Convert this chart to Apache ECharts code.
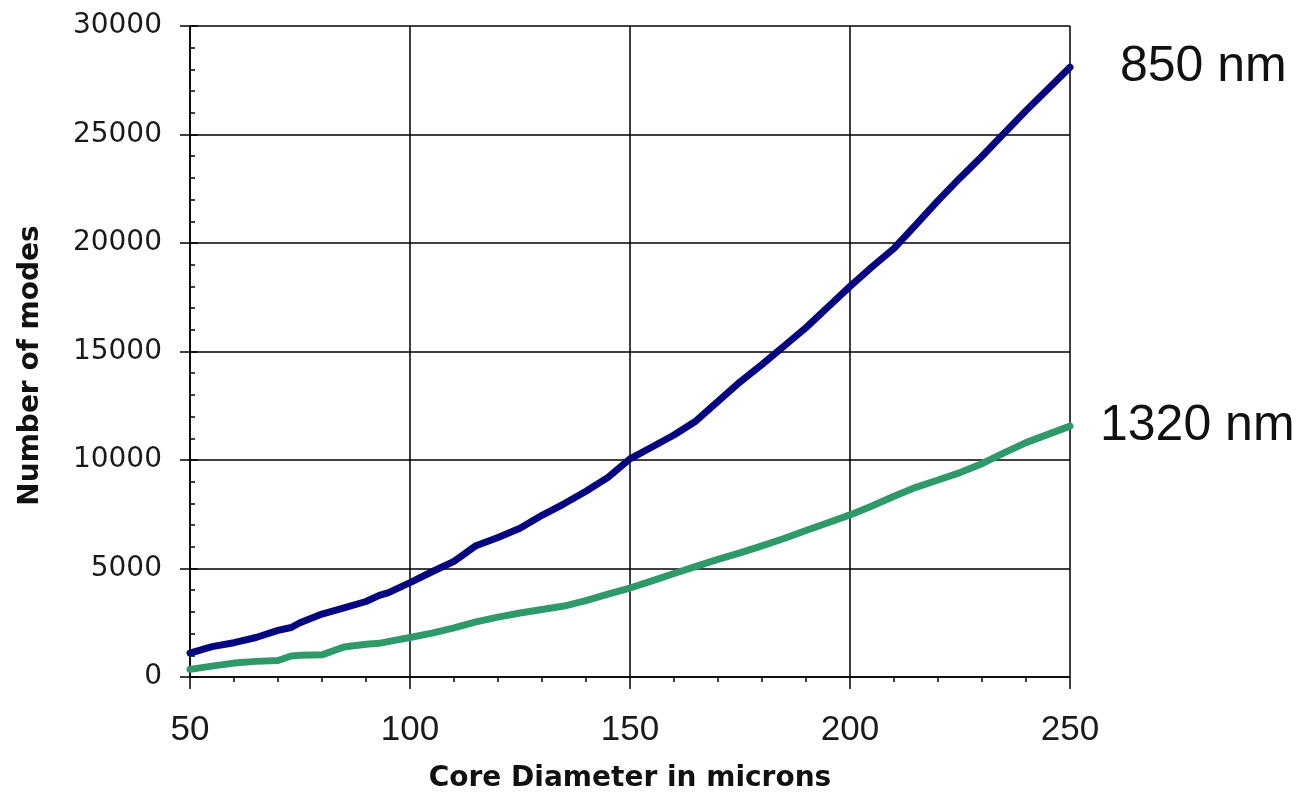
<!DOCTYPE html>
<html>
<head>
<meta charset="utf-8">
<script src="https://cdn.jsdelivr.net/npm/echarts@6/dist/echarts.min.js"></script>
<style>
  html, body { margin: 0; padding: 0; background: #fff; }
  #chart { width: 1300px; height: 795px; }
</style>
</head>
<body>
<div id="chart"></div>
<script>
// Core diameter (microns)
const diameters = [50, 55, 60, 65, 70, 73, 75, 80, 85, 90, 93, 95, 100, 105, 110, 115, 120, 125, 130, 135, 140, 145, 150,
  155, 160, 165, 170, 175, 180, 185, 190, 195, 200, 205, 210, 215, 220, 225, 230, 235, 240, 245, 250];

// Number of guided modes at 850 nm
const modes850 = [1100, 1400, 1580, 1820, 2150, 2280, 2500, 2900, 3180, 3480, 3760, 3880, 4350, 4850, 5330, 6050, 6430, 6850, 7450, 7980, 8560, 9200, 10050,
  10600, 11150, 11800, 12700, 13600, 14400, 15250, 16100, 17050, 18000, 18900, 19750, 20850, 21950, 23000, 24000, 25050, 26100, 27100, 28100];

// Number of guided modes at 1320 nm
const modes1320 = [350, 500, 640, 720, 760, 970, 1000, 1020, 1380, 1510, 1550, 1630, 1820, 2020, 2260, 2540, 2760, 2950, 3110, 3270, 3520, 3820, 4100,
  4430, 4770, 5100, 5420, 5720, 6040, 6380, 6750, 7110, 7470, 7880, 8330, 8740, 9080, 9420, 9830, 10330, 10800, 11180, 11560];

const xTicks = [50, 100, 150, 200, 250];
const yTicks = [0, 5000, 10000, 15000, 20000, 25000, 30000];

const seriesNames = ['850 nm', '1320 nm'];

const pairs = (ys) => diameters.map((d, i) => [d, ys[i]]);

const chart = echarts.init(document.getElementById('chart'), null, { renderer: 'canvas' });

const xMin = xTicks[0], xMax = xTicks[xTicks.length - 1];
const yMin = yTicks[0], yMax = yTicks[yTicks.length - 1];

chart.setOption({
  backgroundColor: '#ffffff',
  animation: false,
  grid: { left: 190, right: 230, top: 26, bottom: 118, containLabel: false, outerBoundsMode: 'none' },
  xAxis: [
    {
      type: 'value', min: xMin, max: xMax, interval: 50,
      name: 'Core Diameter in microns',
      nameLocation: 'middle', nameGap: 88,
      nameTextStyle: { fontFamily: 'DejaVu Sans', fontWeight: 'bold', fontSize: 28, color: '#111' },
      axisLine: { show: true, lineStyle: { color: '#000', width: 1.5 } },
      axisTick: { show: true, inside: false, length: 12, lineStyle: { color: '#000', width: 1.5 } },
      axisLabel: { margin: 36, fontFamily: 'Liberation Sans', fontSize: 35, color: '#1a1a1a',
        formatter: (v) => String(v) },
      splitLine: { show: true, lineStyle: { color: '#000', width: 1.5 } }
    },
    {
      // inner minor ticks every 10 microns
      type: 'value', min: xMin, max: xMax, interval: 50, position: 'bottom', offset: 0,
      axisLine: { show: false },
      axisTick: { show: false },
      minorTick: { show: true, splitNumber: 5, length: 5, lineStyle: { color: '#000', width: 1.5 } },
      axisLabel: { show: false },
      splitLine: { show: false }
    }
  ],
  yAxis: [
    {
      type: 'value', min: yMin, max: yMax, interval: 5000,
      name: 'Number of modes',
      nameLocation: 'middle', nameGap: 145, nameRotate: 90,
      nameTextStyle: { fontFamily: 'DejaVu Sans', fontWeight: 'bold', fontSize: 28, color: '#111',
        padding: [0, 28, 0, 0] },
      axisLine: { show: true, lineStyle: { color: '#000', width: 1.5 } },
      axisTick: { show: true, inside: false, length: 10, lineStyle: { color: '#000', width: 1.5 } },
      axisLabel: { margin: 28, fontFamily: 'DejaVu Sans', fontSize: 28, color: '#1a1a1a',
        formatter: (v) => String(v) },
      splitLine: { show: true, lineStyle: { color: '#000', width: 1.5 } }
    },
    {
      // inner major + minor ticks every 1000 modes
      type: 'value', min: yMin, max: yMax, interval: 5000, position: 'left', offset: 0,
      axisLine: { show: false },
      axisTick: { show: true, inside: true, length: 8, lineStyle: { color: '#000', width: 1.5 } },
      minorTick: { show: true, splitNumber: 5, length: 5, lineStyle: { color: '#000', width: 1.5 } },
      axisLabel: { show: false },
      splitLine: { show: false }
    }
  ],
  series: [
    {
      name: seriesNames[0], type: 'line', data: pairs(modes850),
      showSymbol: false, smooth: false, clip: false,
      lineStyle: { color: '#05057f', width: 7, join: 'round', cap: 'round' },
      endLabel: {
        show: true, formatter: '{a}', distance: 50,
        fontFamily: 'Liberation Sans', fontSize: 50, color: '#111'
      }
    },
    {
      name: seriesNames[1], type: 'line', data: pairs(modes1320),
      showSymbol: false, smooth: false, clip: false,
      lineStyle: { color: '#2f9a69', width: 7, join: 'round', cap: 'round' },
      endLabel: {
        show: true, formatter: '{a}', distance: 30,
        fontFamily: 'Liberation Sans', fontSize: 50, color: '#111'
      }
    }
  ]
});
</script>
</body>
</html>
